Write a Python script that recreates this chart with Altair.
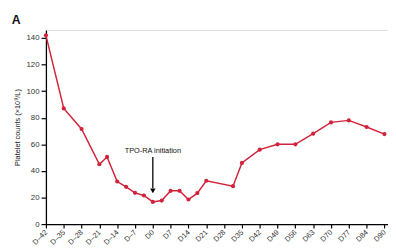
import altair as alt
import pandas as pd

# Tick labels (uniformly spaced on the axis)
tick_labels = ["D–42", "D–35", "D–28", "D–21", "D–14", "D–7", "D0", "D7", "D14", "D21",
               "D28", "D35", "D42", "D49", "D56", "D63", "D70", "D77", "D84", "D90"]
y_ticks = [0, 20, 40, 60, 80, 100, 120, 140]

# Measurement positions (in tick-index units) and platelet counts (x10^9/L)
positions = [0, 1, 2, 3, 3.43, 4, 4.5, 5, 5.5, 6, 6.5, 7, 7.5, 8, 8.5, 9,
             10.5, 11, 12, 13, 14, 15, 16, 17, 18, 19]
counts = [142, 87, 71.5, 45, 50.5, 32, 28, 23.5, 21.5, 16.7, 17.7, 25, 25, 18.5, 23.3, 32.6,
          28.5, 46, 56, 60, 60, 68, 76.5, 78, 73, 67.7]

# Annotation
annot_text = ["TPO-RA initiation"]
annot_pos = [6]
annot_text_y = [52]
arrow_top = [50.5]
arrow_bottom = [27]
arrow_head = [25]

RED = "#d2233c"
FONT = "Liberation Sans"

df = pd.DataFrame({"pos": positions, "count": counts})
ann = pd.DataFrame({"pos": annot_pos, "label": annot_text, "ty": annot_text_y,
                    "top": arrow_top, "bottom": arrow_bottom, "head": arrow_head})

label_expr = "[" + ",".join(f"'{t}'" for t in tick_labels) + "][round(datum.value)]"

x_scale = alt.Scale(domain=[0, 19.2], nice=False, zero=False)
y_scale = alt.Scale(domain=[0, 146], nice=False)

x_axis = alt.Axis(values=list(range(len(tick_labels))), labelExpr=label_expr,
                  labelAngle=-45, labelAlign="right", labelBaseline="middle",
                  labelOverlap=False, labelBound=False, labelFlush=False,
                  labelPadding=3, tickSize=4, grid=False, title=None,
                  domainColor="black", tickColor="black", domainWidth=1.3,
                  tickWidth=1.2, labelFontSize=7.5, labelColor="#333",
                  labelFont=FONT)
y_axis = alt.Axis(values=y_ticks, tickSize=5,
                  labelOverlap=False, labelFlush=False, labelBound=False,
                  grid=False, title="Platelet counts (×10⁹/L)",
                  titleFontSize=7.5, titleFontWeight="normal", titleFont=FONT,
                  titleColor="#222", titlePadding=5,
                  domainColor="black", tickColor="black", domainWidth=1.3,
                  tickWidth=1.2, labelFontSize=8, labelColor="#333",
                  labelFont=FONT, labelPadding=2)


def X(field):
    return alt.X(f"{field}:Q", scale=x_scale, axis=x_axis)


def Y(field):
    return alt.Y(f"{field}:Q", scale=y_scale, axis=y_axis)


base = alt.Chart(df)
line = base.mark_line(color=RED, strokeWidth=1.5).encode(x=X("pos"), y=Y("count"))
pts = base.mark_circle(color=RED, size=18, opacity=1).encode(x=X("pos"), y=Y("count"))

abase = alt.Chart(ann)
txt = abase.mark_text(fontSize=7.5, font=FONT, color="#111", baseline="bottom",
                      align="center").encode(x=X("pos"), y=Y("ty"), text="label:N")
rule = abase.mark_rule(color="black", strokeWidth=1.3).encode(
    x=X("pos"), y=Y("top"), y2="bottom:Q")
head = abase.mark_point(shape="triangle-down", filled=True, color="black", size=30,
                        opacity=1).encode(x=X("pos"), y=Y("head"))

panel_label = alt.Chart(pd.DataFrame({"t": ["A"]})).mark_text(
    fontSize=12.5, fontWeight="bold", font=FONT, color="#111", align="left",
    baseline="alphabetic").encode(x=alt.value(-35), y=alt.value(-6), text="t:N")

chart = alt.layer(line, pts, rule, head, txt, panel_label).properties(
    width=349, height=198,
    autosize=alt.AutoSizeParams(type="none"),
    padding={"left": 38.7, "top": 20, "right": 0, "bottom": 24},
).configure_view(stroke=None).configure(background="white")

chart.save("out.html", embed_options={"renderer": "svg", "actions": False})
